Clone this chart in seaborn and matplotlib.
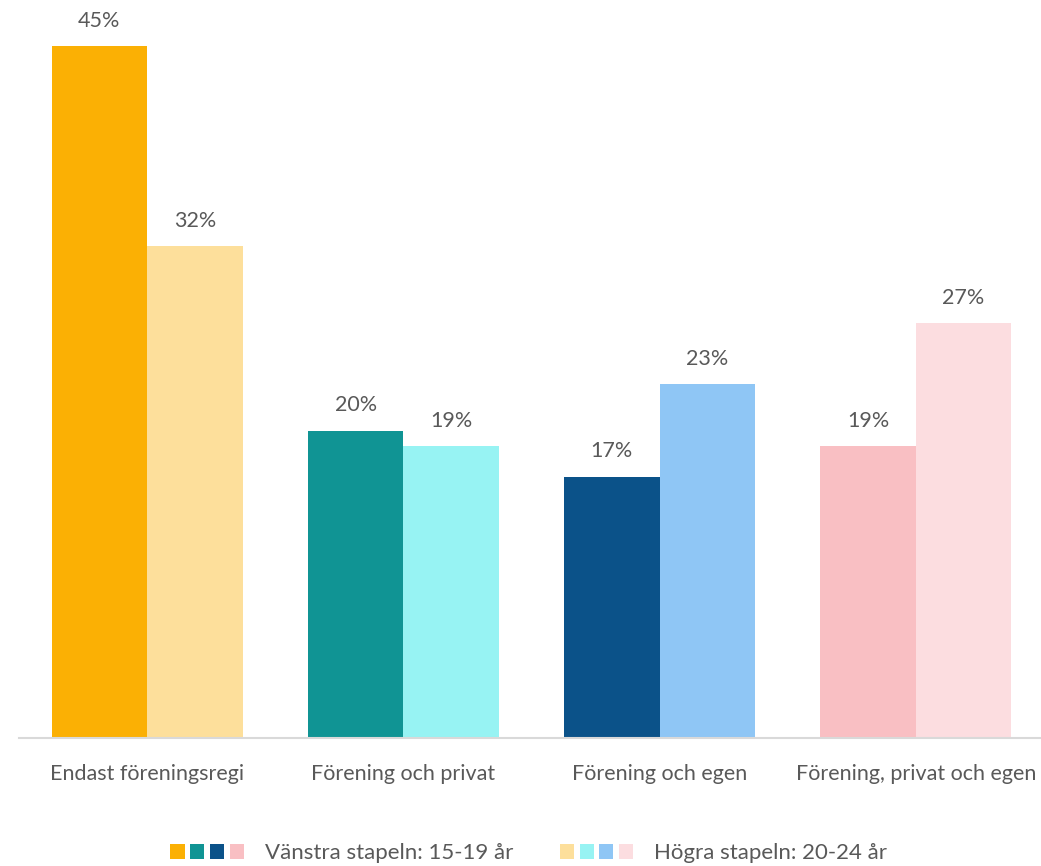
import matplotlib
matplotlib.use("Agg")
import matplotlib.pyplot as plt
import seaborn as sns
import pandas as pd
from matplotlib.patches import Patch
from matplotlib.legend_handler import HandlerTuple

categories = ["Endast föreningsregi", "Förening och privat", "Förening och egen", "Förening, privat och egen"]
age_groups = ["Vänstra stapeln: 15-19 år", "Högra stapeln: 20-24 år"]
values_15_19 = [45, 20, 17, 19]
values_20_24 = [32, 19, 23, 27]
colors_left = ["#FBB004", "#109494", "#0B5289", "#F9BFC3"]
colors_right = ["#FDDF9B", "#97F3F3", "#8FC6F5", "#FCDDE0"]

df = pd.DataFrame({
    "cat": categories * 2,
    "age": [age_groups[0]] * 4 + [age_groups[1]] * 4,
    "val": values_15_19 + values_20_24,
})

sns.set_theme(style="white")
plt.rcParams["font.family"] = ["Lato", "DejaVu Sans"]
text_color = "#595959"

fig = plt.figure(figsize=(10.41, 8.66), dpi=100)
ax = fig.add_axes([19 / 1041, (866 - 738) / 866, 1025 / 1041, 738 / 866])

sns.barplot(data=df, x="cat", y="val", hue="age", order=categories, hue_order=age_groups,
            width=0.745, ax=ax, legend=False, saturation=1)

for i, cont in enumerate(ax.containers):
    cols = colors_left if i == 0 else colors_right
    for p, c in zip(cont.patches, cols):
        p.set_facecolor(c)
        p.set_edgecolor("none")
    ax.bar_label(cont, labels=[f"{v:.0f}%" for v in cont.datavalues], padding=11,
                 fontsize=15.5, color=text_color)

ax.set_ylim(0, 48)
ax.set_xlim(-0.5, 3.5)
ax.set_yticks([])
ax.set_xlabel("")
ax.set_ylabel("")
for s in ["top", "right", "left"]:
    ax.spines[s].set_visible(False)
ax.spines["bottom"].set_color("#D9D9D9")
ax.spines["bottom"].set_linewidth(1.5)
ax.tick_params(axis="x", length=0, pad=19, labelsize=15.5, labelcolor=text_color)

h_left = tuple(Patch(facecolor=c, edgecolor="none") for c in colors_left)
h_right = tuple(Patch(facecolor=c, edgecolor="none") for c in colors_right)
leg = fig.legend([h_left, h_right], age_groups, loc="center", bbox_to_anchor=(0.508, 1 - 853 / 866),
                 ncol=2, frameon=False, fontsize=16, labelcolor=text_color,
                 handler_map={tuple: HandlerTuple(ndivide=None, pad=0.25)},
                 handlelength=3.3, handleheight=0.65, handletextpad=0.95, columnspacing=2.1)

fig.savefig("out.png", dpi=100)
